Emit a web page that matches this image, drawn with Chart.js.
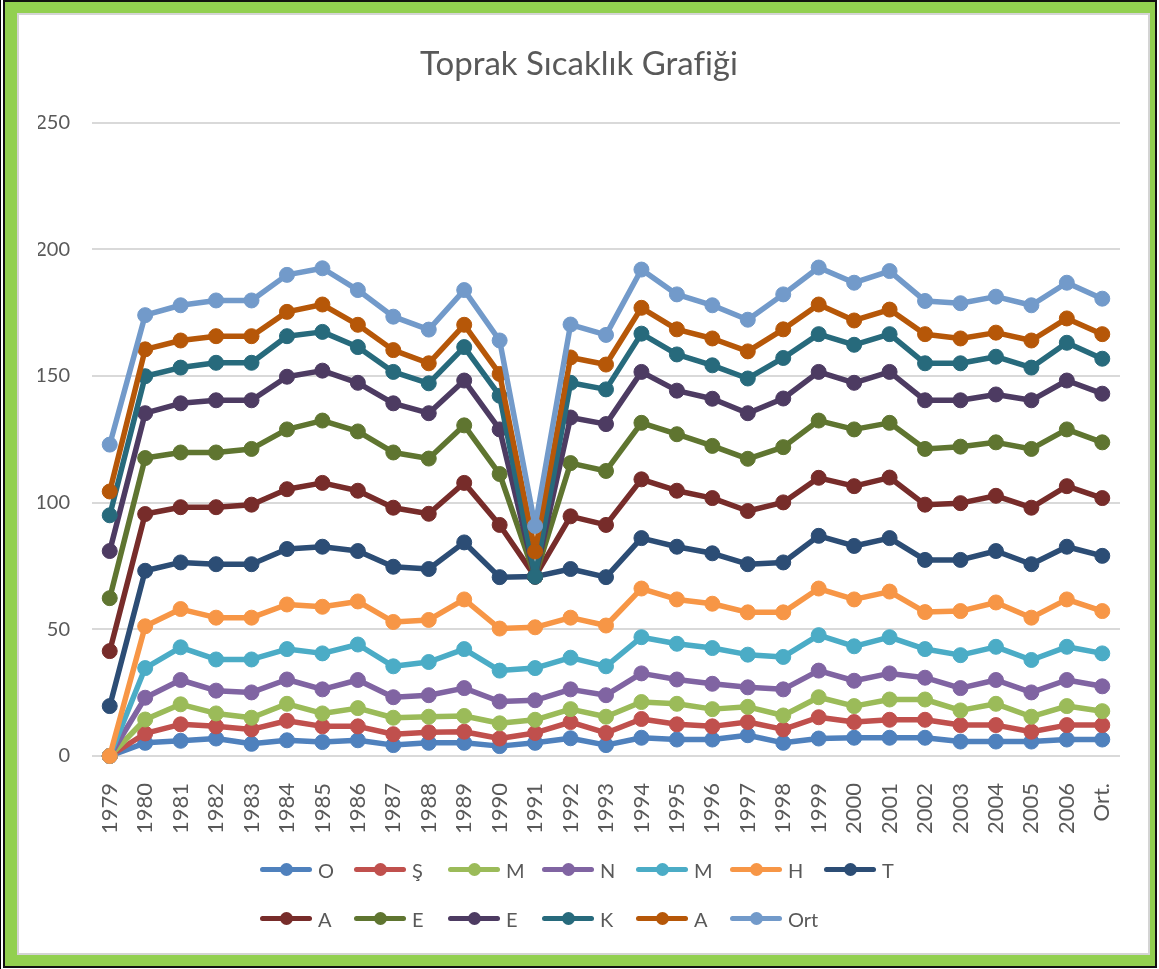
<!DOCTYPE html>
<html lang="tr">
<head>
  <meta charset="UTF-8">
  <title>Toprak Sıcaklık Grafiği</title>
  <script src="https://cdn.jsdelivr.net/npm/chart.js"></script>
  <style>
    body {
      margin: 0;
      width: 1159px;
      height: 969px;
      overflow: hidden;
      background: #fff;
      position: relative;
      font-family: Lato, 'Open Sans', sans-serif;
    }
    .edge {
      position: absolute;
      left: 0; top: 0;
      width: 1159px; height: 969px;
      box-sizing: border-box;
      border-left: 1px solid #000;
    }
    .frame {
      position: absolute;
      left: 3px; top: 0;
      width: 1154px; height: 968px;
      box-sizing: border-box;
      border: 2px solid #111;
      background: #92d050;
    }
    .panel {
      position: absolute;
      left: 17px; top: 13px;
      width: 1133px; height: 942px;
      box-sizing: border-box;
      border: 2px solid #d4d4d4;
      background: #fff;
    }
    .panel canvas {
      position: absolute;
      left: 0; top: 0;
    }
    /* legend laid out as a fixed grid, 7 per row */
    #legend {
      position: absolute;
      left: 260px; top: 845px;
      display: grid;
      grid-template-columns: repeat(7, 94px);
      grid-auto-rows: 49px;
      align-items: center;
    }
    .item {
      display: flex;
      align-items: center;
      color: #595959;
      font-size: 20px;
    }
    .swatch {
      position: relative;
      width: 52px;
      height: 5px;
      border-radius: 3px;
    }
    .swatch span {
      position: absolute;
      left: 20px; top: -4px;
      width: 13px; height: 13px;
      border-radius: 50%;
    }
    .item label { margin-left: 6px; }
  </style>
</head>
<body>

<div class="edge"></div>
<div class="frame"></div>
<div class="panel">
  <canvas id="soilChart" width="1129" height="938"></canvas>
</div>
<div id="legend"></div>

<script>
  const years = ['1979', '1980', '1981', '1982', '1983', '1984', '1985', '1986', '1987', '1988',
    '1989', '1990', '1991', '1992', '1993', '1994', '1995', '1996', '1997', '1998', '1999',
    '2000', '2001', '2002', '2003', '2004', '2005', '2006', 'Ort.'];

  // cumulative monthly soil temperatures (each month stacked on the previous)
  const oca = [0, 5.2, 6.0, 6.9, 4.8, 6.2, 5.5, 6.2, 4.3, 5.2, 5.2, 3.9, 5.2, 7.0, 4.3, 7.2, 6.5, 6.5, 8.2, 5.2, 6.9, 7.2, 7.2, 7.2, 5.7, 5.7, 5.7, 6.5, 6.5];
  const sub = [0, 8.9, 12.5, 11.7, 10.5, 13.9, 11.7, 11.7, 8.6, 9.4, 9.6, 6.9, 9.1, 13.4, 9.1, 14.6, 12.5, 11.7, 13.4, 10.5, 15.3, 13.4, 14.3, 14.3, 12.2, 12.2, 9.6, 12.2, 12.2];
  const mar = [0, 14.4, 20.4, 16.8, 15.1, 20.6, 16.8, 18.9, 15.1, 15.5, 15.8, 12.9, 14.3, 18.5, 15.5, 21.3, 20.6, 18.5, 19.4, 16.0, 23.2, 19.7, 22.3, 22.3, 18.0, 20.6, 15.5, 19.7, 17.7];
  const nis = [0, 23.0, 30.0, 25.8, 25.1, 30.2, 26.3, 30.0, 23.2, 24.0, 26.8, 21.5, 22.0, 26.3, 24.0, 32.6, 30.2, 28.5, 27.1, 26.3, 33.7, 29.7, 32.6, 30.9, 26.8, 30.0, 25.1, 30.0, 27.5];
  const may = [0, 34.7, 42.9, 38.1, 38.1, 42.2, 40.5, 44.0, 35.4, 37.1, 42.2, 33.7, 34.7, 38.8, 35.4, 46.9, 44.3, 42.6, 40.0, 39.1, 47.7, 43.3, 46.9, 42.2, 39.8, 43.1, 37.9, 43.1, 40.5];
  const haz = [0, 51.2, 58.0, 54.6, 54.6, 59.8, 58.9, 61.0, 52.9, 53.7, 61.8, 50.3, 50.8, 54.6, 51.5, 66.1, 61.8, 60.1, 56.7, 56.7, 66.1, 61.8, 64.9, 56.8, 57.2, 60.6, 54.6, 61.8, 57.2];
  const tem = [19.7, 73.1, 76.4, 75.7, 75.7, 81.7, 82.6, 80.9, 74.7, 73.8, 84.3, 70.6, 70.8, 73.8, 70.6, 86.0, 82.6, 80.0, 75.7, 76.4, 86.9, 82.9, 86.0, 77.4, 77.4, 80.9, 75.7, 82.6, 79.0];
  const agu = [41.4, 95.5, 98.2, 98.2, 99.2, 105.3, 107.8, 104.7, 98.0, 95.6, 107.8, 91.2, 70.8, 94.6, 91.2, 109.2, 104.7, 101.8, 96.7, 100.1, 109.8, 106.5, 109.9, 99.2, 99.8, 102.7, 98.0, 106.5, 101.8];
  const eyl = [62.3, 117.6, 119.8, 119.8, 121.2, 128.9, 132.4, 128.1, 119.8, 117.4, 130.5, 111.3, 70.8, 115.6, 112.5, 131.5, 127.0, 122.4, 117.3, 121.9, 132.4, 128.9, 131.5, 121.2, 122.1, 123.8, 121.2, 128.9, 123.8];
  const eki = [80.9, 135.3, 139.2, 140.4, 140.4, 149.7, 152.1, 147.3, 139.2, 135.3, 148.2, 128.9, 70.8, 133.6, 131.0, 151.6, 144.2, 141.0, 135.3, 141.1, 151.6, 147.3, 151.6, 140.4, 140.4, 142.7, 140.4, 148.2, 143.0];
  const kas = [95.0, 149.9, 153.3, 155.2, 155.2, 165.7, 167.4, 161.4, 151.6, 147.1, 161.4, 142.2, 70.8, 147.3, 144.7, 166.7, 158.5, 154.2, 149.0, 157.1, 166.5, 162.3, 166.5, 155.0, 155.0, 157.6, 153.3, 163.1, 156.8];
  const ara = [104.4, 160.5, 164.0, 165.7, 165.7, 175.3, 178.2, 170.2, 160.2, 155.0, 170.2, 150.8, 80.7, 157.3, 154.5, 176.9, 168.4, 164.8, 159.7, 168.4, 178.2, 171.9, 176.2, 166.5, 164.8, 167.1, 164.0, 172.7, 166.5];
  const ort = [122.9, 174.0, 177.9, 179.8, 179.8, 189.9, 192.5, 183.9, 173.4, 168.3, 183.9, 164.0, 90.8, 170.3, 166.2, 192.0, 182.2, 177.9, 172.2, 182.2, 192.8, 186.8, 191.4, 179.6, 178.7, 181.3, 177.9, 186.8, 180.5];

  const seriesNames = ['O', 'Ş', 'M', 'N', 'M', 'H', 'T', 'A', 'E', 'E', 'K', 'A', 'Ort'];
  const seriesData = [oca, sub, mar, nis, may, haz, tem, agu, eyl, eki, kas, ara, ort];
  const seriesColors = ['#4f81bd', '#c0504d', '#9bbb59', '#8064a2', '#4bacc6', '#f79646',
    '#2c4d75', '#772c2a', '#5f7530', '#4d3b62', '#276a7c', '#b65708', '#729aca'];

  const FONT = "Lato, 'Open Sans', sans-serif";
  const TEXT = '#595959';

  const datasets = seriesNames.map((name, i) => ({
    label: name,
    data: seriesData[i],
    borderColor: seriesColors[i],
    backgroundColor: seriesColors[i],
    pointBackgroundColor: seriesColors[i],
    pointBorderColor: seriesColors[i],
    borderWidth: 5.5,
    borderJoinStyle: 'round',
    borderCapStyle: 'round',
    pointRadius: 7.5,
    pointHoverRadius: 7.5,
    pointBorderWidth: 1,
    tension: 0,
    clip: false,
    // later series sit on top, like the spreadsheet chart
    order: seriesNames.length - i
  }));

  const chart = new Chart(document.getElementById('soilChart'), {
    type: 'line',
    data: { labels: years, datasets: datasets },
    options: {
      responsive: false,
      animation: false,
      devicePixelRatio: 1,
      layout: { padding: { left: 19, right: 28, top: 0, bottom: 117 } },
      plugins: {
        legend: { display: false },
        tooltip: { enabled: false },
        title: {
          display: true,
          text: 'Toprak Sıcaklık Grafiği',
          color: TEXT,
          font: { family: FONT, size: 33, weight: 'normal', lineHeight: 1.2 },
          padding: { top: 30, bottom: 38 }
        }
      },
      scales: {
        x: {
          offset: true,
          grid: { display: false },
          border: { display: false },
          ticks: {
            color: TEXT,
            font: { family: FONT, size: 22 },
            minRotation: 90,
            maxRotation: 90,
            padding: 19,
            autoSkip: false
          },
          // fixed axis band, no extra side padding for the rotated labels
          afterFit: (scale) => {
            scale.height = 80;
            scale.paddingLeft = 0;
            scale.paddingRight = 0;
          }
        },
        y: {
          min: 0,
          max: 250,
          grid: { color: '#d9d9d9', lineWidth: 2, drawTicks: false },
          border: { display: false },
          ticks: {
            stepSize: 50,
            color: TEXT,
            font: { family: FONT, size: 20 },
            padding: 22
          },
          afterFit: (scale) => { scale.width = 54; }
        }
      }
    }
  });

  // legend built from the chart's datasets
  const legendBox = document.getElementById('legend');
  chart.data.datasets.forEach(ds => {
    const item = document.createElement('div');
    item.className = 'item';
    item.innerHTML = `<div class="swatch" style="background:${ds.borderColor}">` +
      `<span style="background:${ds.borderColor}"></span></div><label>${ds.label}</label>`;
    legendBox.appendChild(item);
  });
</script>
</body>
</html>
